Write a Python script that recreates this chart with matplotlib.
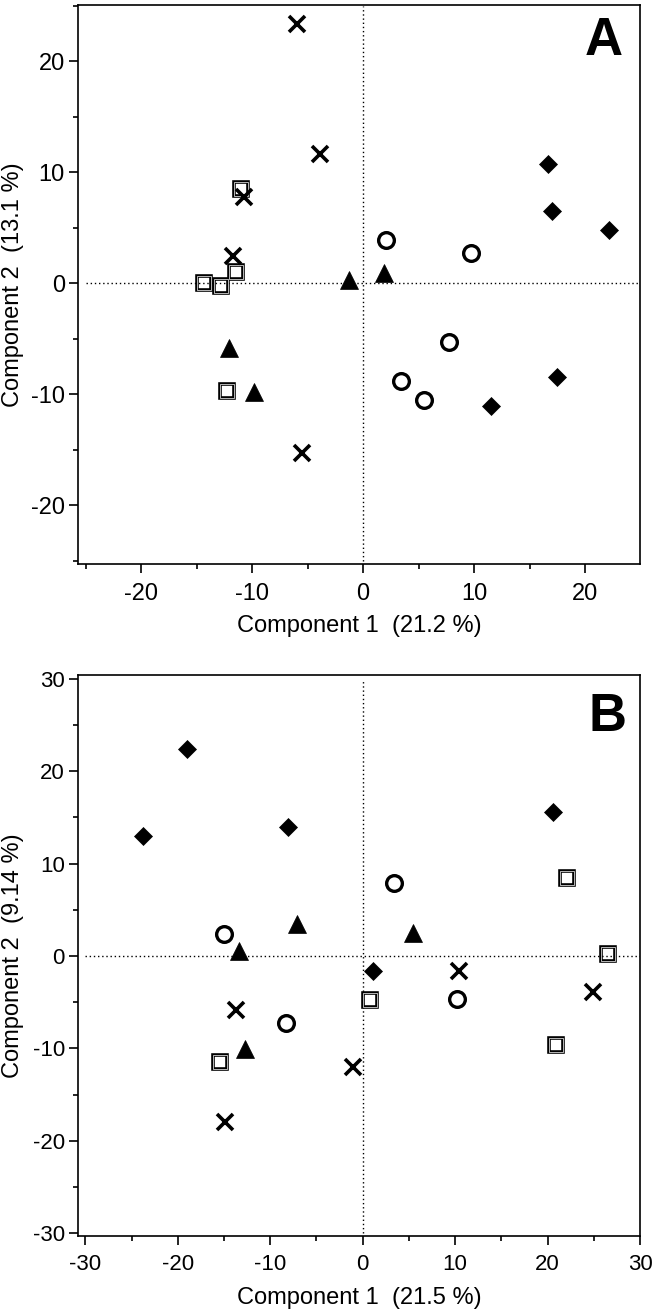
import matplotlib
matplotlib.use('Agg')
import matplotlib.pyplot as plt
from matplotlib.ticker import MultipleLocator

plt.rcParams['font.family'] = ['Liberation Sans', 'DejaVu Sans']
plt.rcParams['axes.unicode_minus'] = False

# -- Panel A scores -----------------------------------------------------------
a_cross_x = [-6.0, -3.9, -10.7, -11.7, -5.5]
a_cross_y = [23.3, 11.6, 7.8, 2.4, -15.3]
a_square_x = [-11.0, -11.5, -14.3, -12.8, -12.3]
a_square_y = [8.5, 1.0, 0.0, -0.3, -9.7]
a_tri_x = [-1.3, 1.9, -12.1, -9.8]
a_tri_y = [0.3, 0.9, -5.8, -9.8]
a_circ_x = [2.1, 9.7, 7.7, 3.45, 5.5]
a_circ_y = [3.9, 2.7, -5.3, -8.8, -10.5]
a_diam_x = [16.7, 17.0, 22.2, 17.5, 11.5]
a_diam_y = [10.75, 6.5, 4.8, -8.5, -11.1]

# -- Panel B scores -----------------------------------------------------------
b_cross_x = [10.4, 24.9, -13.7, -1.1, -14.9]
b_cross_y = [-1.6, -3.85, -5.8, -12.0, -18.0]
b_square_x = [22.1, 26.5, 0.8, -15.4, 20.9]
b_square_y = [8.45, 0.2, -4.75, -11.5, -9.6]
b_tri_x = [-13.4, -7.1, 5.4, -12.7]
b_tri_y = [0.5, 3.5, 2.5, -10.1]
b_circ_x = [-15.0, 3.4, -8.3, 10.2]
b_circ_y = [2.4, 7.95, -7.3, -4.7]
b_diam_x = [-23.8, -19.0, -8.1, 20.6, 1.15]
b_diam_y = [13.0, 22.4, 14.0, 15.6, -1.6]

A_X_LABEL = 'Component 1  (21.2 %)'
A_Y_LABEL = 'Component 2  (13.1 %)'
B_X_LABEL = 'Component 1  (21.5 %)'
B_Y_LABEL = 'Component 2  (9.14 %)'


def draw_panel(ax, data, lims, span, letter, xlabel, ylabel, tick_fs, xpad):
    (cx, cy), (sx, sy), (tx, ty), (ox, oy), (dx, dy) = data
    lo, hi = span
    ax.hlines(0, lo, hi, colors='black', linestyles=(0, (1, 2)), linewidth=1.0, zorder=1)
    ax.vlines(0, lo, hi, colors='black', linestyles=(0, (1, 2)), linewidth=1.0, zorder=1)

    # open squares drawn with a thin white line inside the black edge
    ax.plot(sx, sy, 's', ms=10, mfc='none', mec='black', mew=2.6, zorder=3)
    ax.plot(sx, sy, 's', ms=10, mfc='none', mec='white', mew=0.5, zorder=3)
    ax.plot(ox, oy, 'o', ms=11.3, mfc='none', mec='black', mew=2.4, zorder=3)
    ax.plot(tx, ty, '^', ms=13, mfc='black', mec='black', mew=0.5, zorder=3)
    ax.plot(dx, dy, 'D', ms=9.5, mfc='black', mec='black', mew=0.5, zorder=3)
    ax.plot(cx, cy, 'x', ms=11, mec='black', mew=2.6, zorder=4)

    ax.set_xlim(*lims[0])
    ax.set_ylim(*lims[1])
    ax.xaxis.set_major_locator(MultipleLocator(10))
    ax.xaxis.set_minor_locator(MultipleLocator(5))
    ax.yaxis.set_major_locator(MultipleLocator(10))
    ax.yaxis.set_minor_locator(MultipleLocator(5))
    ax.tick_params(which='major', direction='out', length=6.5, width=1.2,
                   labelsize=tick_fs, pad=3)
    ax.tick_params(axis='x', which='major', pad=xpad)
    ax.tick_params(which='minor', direction='out', length=3.5, width=1.2)
    for sp in ax.spines.values():
        sp.set_linewidth(1.2)

    ax.set_xlabel(xlabel, fontsize=17)
    ax.set_ylabel(ylabel, fontsize=17)
    ax.xaxis.set_label_coords(0.5, -0.11)
    ax.xaxis.label.set_va('center')
    ax.yaxis.set_label_coords(-0.115, 0.5)
    ax.yaxis.label.set_va('center')
    ax.text(letter[1], letter[2], letter[0], transform=ax.transAxes,
            ha='center', va='center', fontsize=38, fontweight='bold')


fig = plt.figure(figsize=(6.53, 13.12), dpi=100)
ax_a = fig.add_axes([0.1194, 0.5701, 0.8607, 0.4261])
ax_b = fig.add_axes([0.1194, 0.0579, 0.8607, 0.4276])

draw_panel(ax_a,
           [(a_cross_x, a_cross_y), (a_square_x, a_square_y), (a_tri_x, a_tri_y),
            (a_circ_x, a_circ_y), (a_diam_x, a_diam_y)],
           ((-25.7, 24.95), (-25.3, 25.05)), (-25, 25),
           ('A', 0.936, 0.935), A_X_LABEL, A_Y_LABEL, 17, 7.5)

draw_panel(ax_b,
           [(b_cross_x, b_cross_y), (b_square_x, b_square_y), (b_tri_x, b_tri_y),
            (b_circ_x, b_circ_y), (b_diam_x, b_diam_y)],
           ((-30.8, 30.0), (-30.3, 30.4)), (-30, 30),
           ('B', 0.943, 0.925), B_X_LABEL, B_Y_LABEL, 16, 6.5)

fig.savefig('out.png', dpi=100, facecolor='white')
